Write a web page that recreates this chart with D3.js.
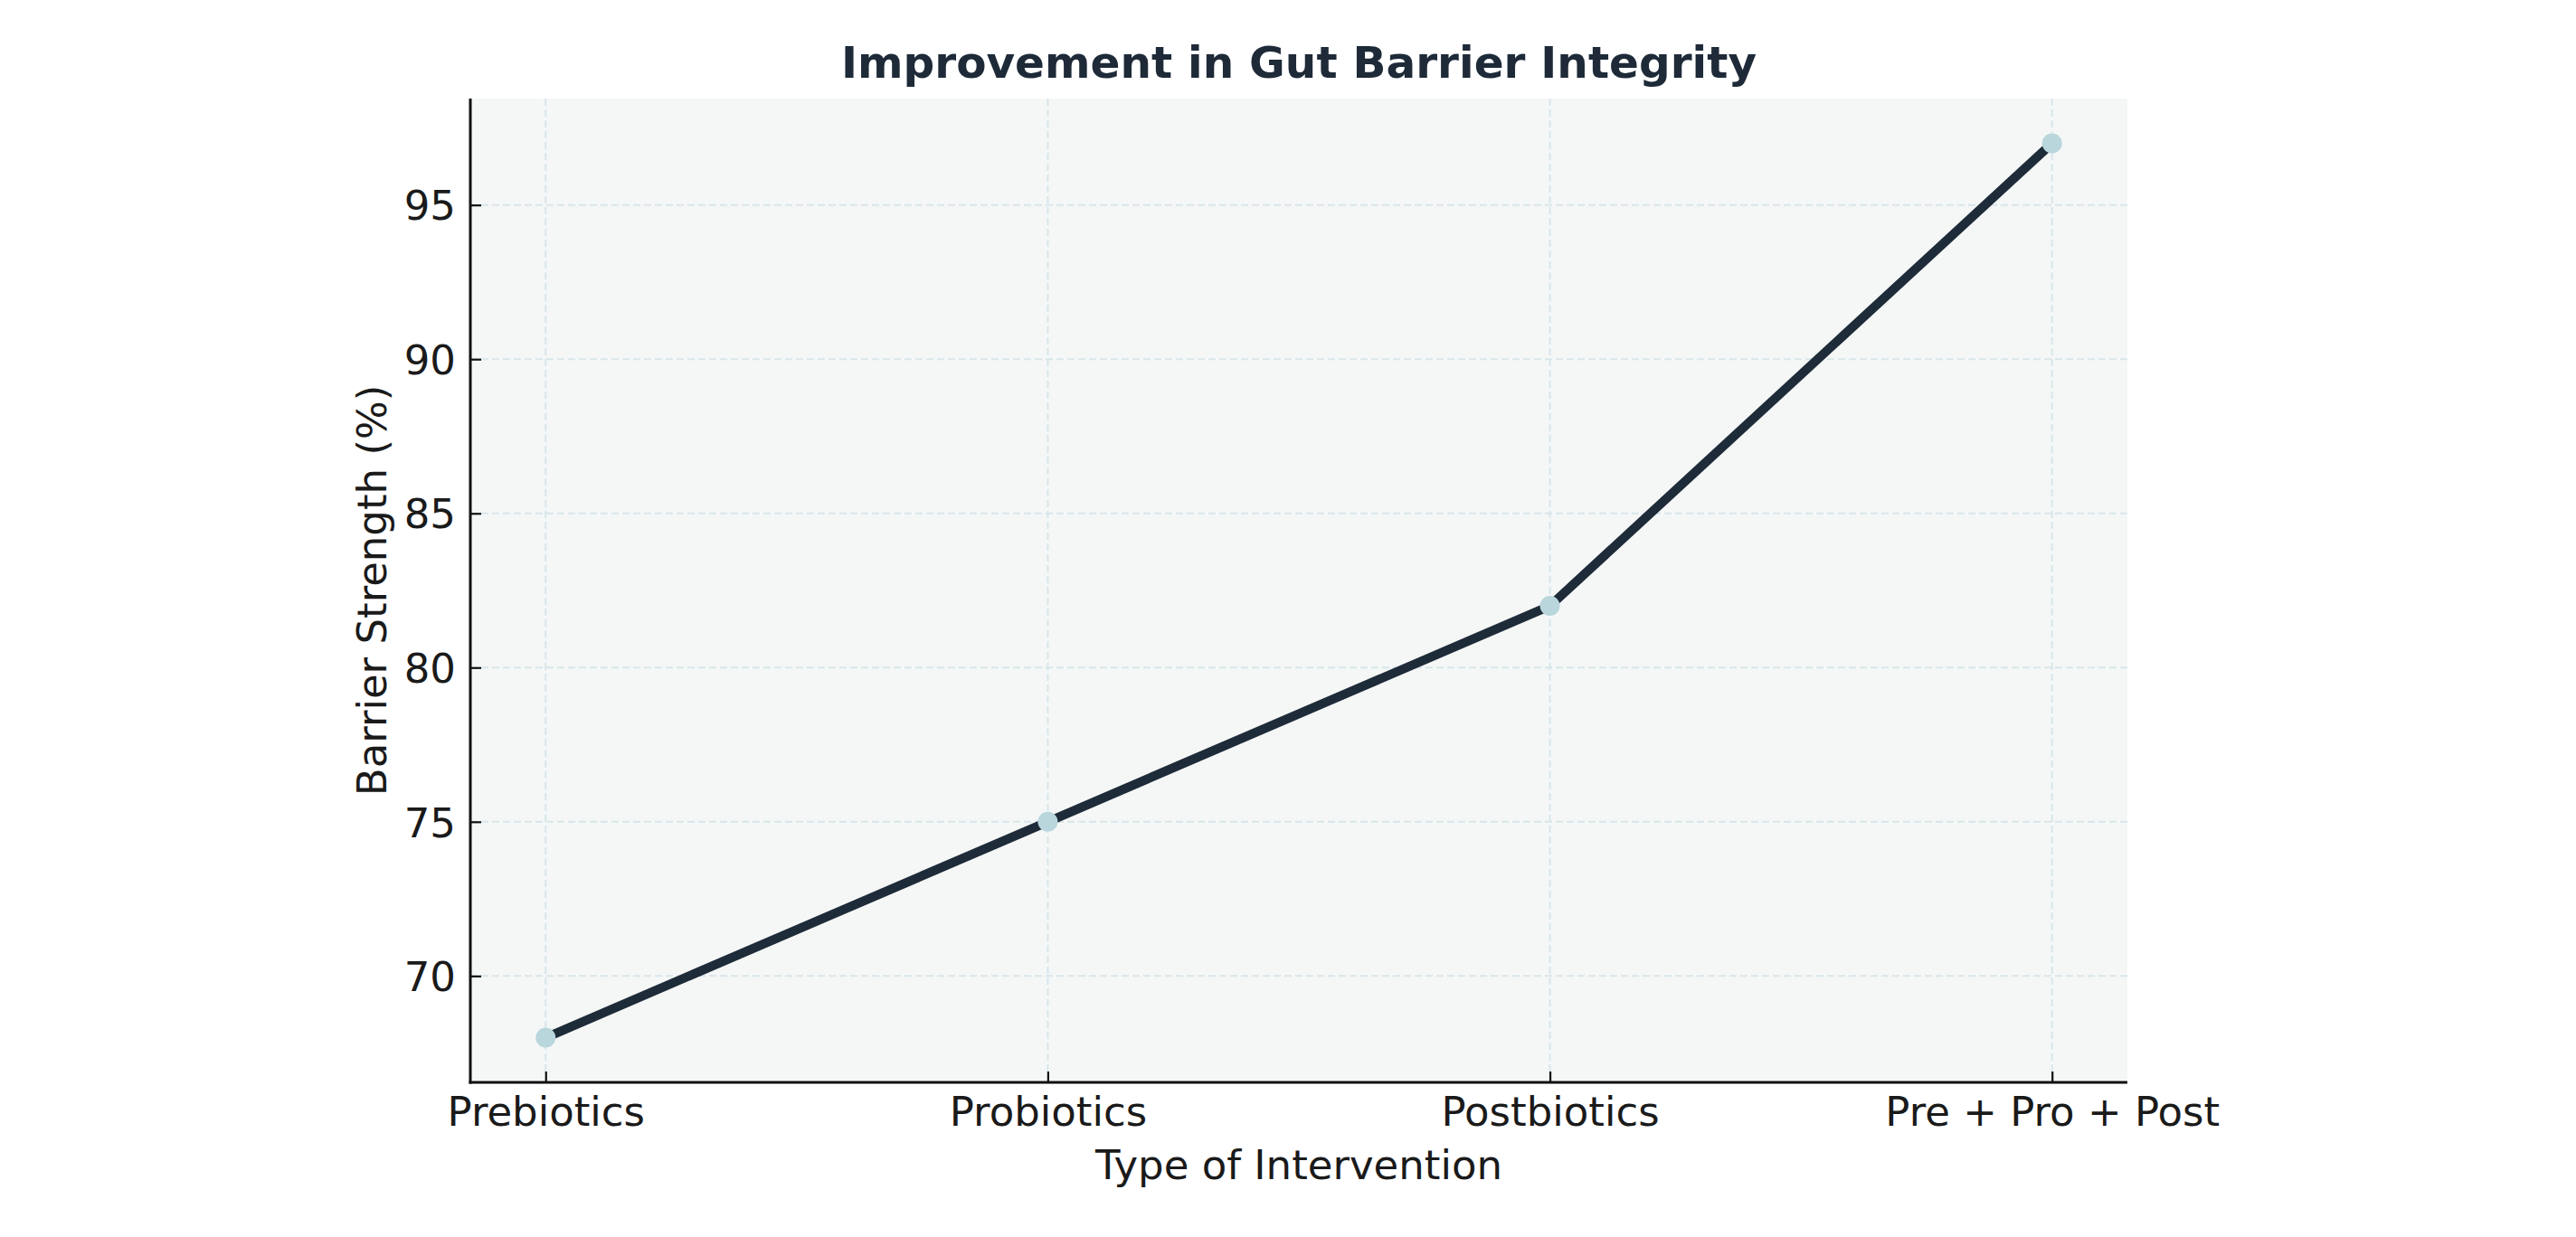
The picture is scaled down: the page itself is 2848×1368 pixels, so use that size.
<!DOCTYPE html>
<html><head><meta charset="utf-8">
<script src="https://cdn.jsdelivr.net/npm/d3@7"></script>
<style>html,body{margin:0;padding:0;background:#fff;}svg{display:block;}</style>
</head><body>
<script>
const categories = ["Prebiotics", "Probiotics", "Postbiotics", "Pre + Pro + Post"];
const values = [68, 75, 82, 97];
const yTicks = [70, 75, 80, 85, 90, 95];
const title = "Improvement in Gut Barrier Integrity";
const xLabel = "Type of Intervention";
const yLabel = "Barrier Strength (%)";

const W = 2848, H = 1368;
const L = 520, R = 2352, T = 109, B = 1197;
const font = "'DejaVu Sans', sans-serif";
const fs = 45;

const svg = d3.select("body").append("svg").attr("width", W).attr("height", H);
svg.append("rect").attr("width", W).attr("height", H).attr("fill", "#fff");

const x = d3.scaleLinear().domain([-0.15, categories.length - 1 + 0.15]).range([L, R]);
const y = d3.scaleLinear().domain([66.55, 98.45]).range([B, T]);

svg.append("rect").attr("x", L).attr("y", T).attr("width", R - L).attr("height", B - T).attr("fill", "#f5f7f7");

// grid
const g = svg.append("g");
g.selectAll(".hg").data(yTicks).join("line")
  .attr("x1", L).attr("x2", R).attr("y1", d => y(d)).attr("y2", d => y(d))
  .attr("stroke", "#d8e6ea").attr("stroke-width", 2).attr("stroke-dasharray", "8,4");
g.selectAll(".vg").data(categories.map((c, i) => i)).join("line")
  .attr("y1", T).attr("y2", B).attr("x1", d => x(d)).attr("x2", d => x(d))
  .attr("stroke", "#d8e6ea").attr("stroke-width", 2).attr("stroke-dasharray", "8,4");

// axes
const yAxis = d3.axisLeft(y).tickValues(yTicks).tickSizeInner(-12).tickSizeOuter(0).tickPadding(16).tickFormat(d3.format("d"));
const ya = svg.append("g").attr("transform", `translate(${L},0)`).call(yAxis);
ya.select(".domain").remove();
ya.selectAll(".tick line").attr("stroke", "#111").attr("stroke-width", 2.2);
ya.selectAll(".tick text").attr("font-family", font).attr("font-size", fs).attr("fill", "#1a1a1a").attr("dy", "0.36em");

const xAxis = d3.axisBottom(x).tickValues(categories.map((c, i) => i)).tickFormat(i => categories[i])
  .tickSizeInner(-12).tickSizeOuter(0).tickPadding(16);
const xa = svg.append("g").attr("transform", `translate(0,${B})`).call(xAxis);
xa.select(".domain").remove();
xa.selectAll(".tick line").attr("stroke", "#111").attr("stroke-width", 2.2);
xa.selectAll(".tick text").attr("font-family", font).attr("font-size", fs).attr("fill", "#1a1a1a")
  .attr("dy", null).attr("y", 48);

// spines
svg.append("line").attr("x1", L).attr("x2", L).attr("y1", T).attr("y2", B + 1.5).attr("stroke", "#111").attr("stroke-width", 3);
svg.append("line").attr("x1", L - 1.5).attr("x2", R).attr("y1", B).attr("y2", B).attr("stroke", "#111").attr("stroke-width", 3);

// line
const pts = values.map((v, i) => [x(i), y(v)]);
svg.append("path").attr("d", d3.line()(pts)).attr("fill", "none")
  .attr("stroke", "#1e2b38").attr("stroke-width", 10).attr("stroke-linejoin", "round").attr("stroke-linecap", "butt");
svg.selectAll(".pt").data(values).join("circle")
  .attr("cx", (d, i) => x(i)).attr("cy", d => y(d)).attr("r", 11).attr("fill", "#b9d6dc");

// texts
svg.append("text").attr("x", (L + R) / 2).attr("y", 86).attr("text-anchor", "middle")
  .attr("font-family", font).attr("font-weight", "bold").attr("font-size", 48.5).attr("fill", "#1e2a38").text(title);
svg.append("text").attr("x", (L + R) / 2).attr("y", 1304).attr("text-anchor", "middle")
  .attr("font-family", font).attr("font-size", fs).attr("fill", "#1a1a1a").text(xLabel);
svg.append("text").attr("transform", `translate(427,${(T + B) / 2}) rotate(-90)`).attr("text-anchor", "middle")
  .attr("font-family", font).attr("font-size", fs).attr("fill", "#1a1a1a").text(yLabel);
</script>
</body></html>
